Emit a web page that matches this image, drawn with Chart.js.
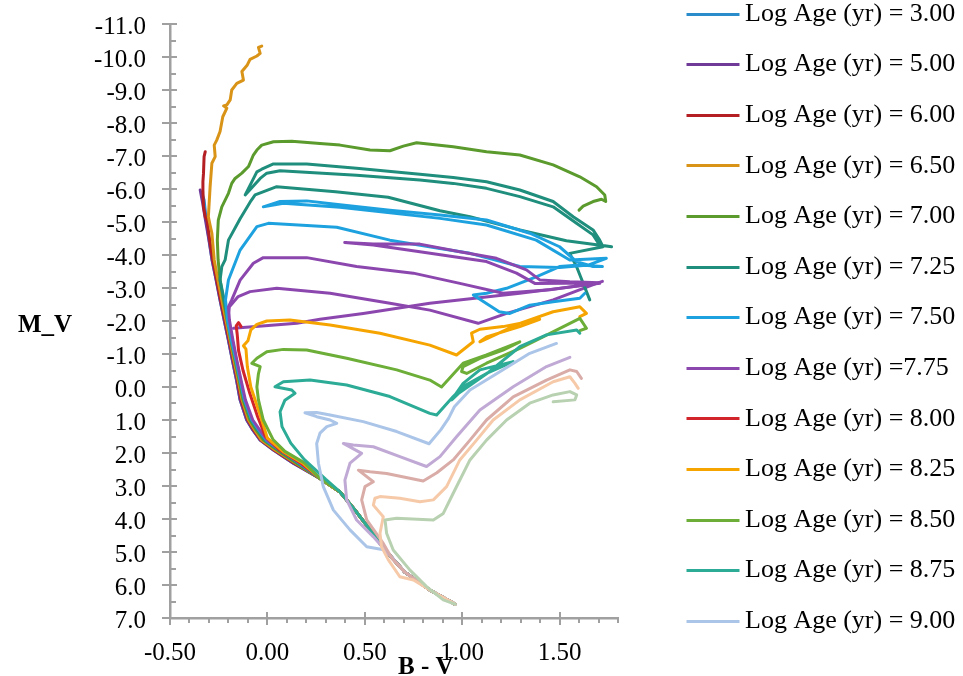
<!DOCTYPE html>
<html>
<head>
<meta charset="utf-8">
<title>Isochrones</title>
<script src="https://cdn.jsdelivr.net/npm/chart.js@4.4.1/dist/chart.umd.min.js"></script>
<style>
  html, body { margin: 0; padding: 0; background: #ffffff; }
  #wrap { width: 963px; height: 676px; }
  canvas { display: block; }
</style>
</head>
<body>
<div id="wrap"><canvas id="chart" width="963" height="676"></canvas></div>
<script>
// ---------------- data (B-V, M_V) ----------------
const AGE_LABELS = [
  'Log Age (yr) = 3.00', 'Log Age (yr) = 5.00', 'Log Age (yr) = 6.00', 'Log Age (yr) = 6.50',
  'Log Age (yr) = 7.00', 'Log Age (yr) = 7.25', 'Log Age (yr) = 7.50', 'Log Age (yr) =7.75',
  'Log Age (yr) = 8.00', 'Log Age (yr) = 8.25', 'Log Age (yr) = 8.50', 'Log Age (yr) = 8.75',
  'Log Age (yr) = 9.00', 'Log Age (yr) = 9.25', 'Log Age (yr) = 9.50', 'Log Age (yr) = 9.75',
  'Log Age (yr) = 10.00'
];
const LEGEND_COUNT = 13;

// shared lower main sequence
const MS_LOW = [[0.963,6.58],[0.834,6.15],[0.706,5.61],[0.604,4.94],[0.527,4.33],[0.450,3.73],[0.373,3.18],[0.270,2.77]];
// how many of the shared lower-MS points each isochrone uses
const MS_SHARE = [8,8,8,8,8,8,8,8,8,8,8,7,4,4,3,2,1];

const ISO_300 = [[0.133,2.31],[0.031,1.91],[-0.037,1.61],[-0.075,1.30],[-0.106,1.00],[-0.140,0.39],[-0.158,-0.20],[-0.180,-0.82],[-0.200,-1.42],[-0.222,-2.03],[-0.243,-2.64],[-0.263,-3.24],[-0.284,-3.85],[-0.299,-4.45],[-0.314,-5.06],[-0.325,-5.67],[-0.335,-5.85]];
const ISO_500 = [[0.133,2.31],[0.031,1.91],[-0.037,1.61],[-0.075,1.30],[-0.106,1.00],[-0.140,0.39],[-0.158,-0.20],[-0.180,-0.82],[-0.200,-1.42],[-0.222,-2.03],[-0.243,-2.64],[-0.263,-3.24],[-0.284,-3.85],[-0.300,-4.45],[-0.318,-5.06],[-0.333,-5.60],[-0.345,-5.97]];
const ISO_600 = [[0.140,2.31],[0.035,1.91],[-0.033,1.61],[-0.070,1.30],[-0.100,1.00],[-0.135,0.39],[-0.153,-0.20],[-0.175,-0.82],[-0.196,-1.42],[-0.218,-2.03],[-0.240,-2.64],[-0.260,-3.24],[-0.280,-3.85],[-0.296,-4.45],[-0.310,-5.06],[-0.319,-5.16],[-0.328,-5.46],[-0.331,-5.97],[-0.331,-6.22],[-0.328,-6.48],[-0.325,-6.98],[-0.319,-7.13]];
const ISO_650 = [[0.145,2.31],[0.040,1.91],[-0.030,1.61],[-0.065,1.30],[-0.097,1.00],[-0.130,0.39],[-0.150,-0.20],[-0.172,-0.82],[-0.192,-1.42],[-0.213,-2.03],[-0.234,-2.64],[-0.254,-3.24],[-0.273,-3.85],[-0.285,-4.66],[-0.294,-4.90],[-0.303,-5.16],[-0.294,-6.07],[-0.285,-6.78],[-0.268,-6.98],[-0.273,-7.33],[-0.260,-7.48],[-0.243,-7.74],[-0.229,-8.19],[-0.208,-8.45],[-0.225,-8.52],[-0.208,-8.55],[-0.191,-8.70],[-0.183,-9.00],[-0.157,-9.20],[-0.123,-9.30],[-0.131,-9.56],[-0.103,-9.76],[-0.089,-9.93],[-0.054,-10.03],[-0.037,-10.11],[-0.046,-10.29],[-0.029,-10.33]];
const ISO_700 = [[0.150,2.31],[0.050,1.91],[-0.020,1.61],[-0.058,1.30],[-0.090,1.00],[-0.125,0.39],[-0.145,-0.20],[-0.167,-0.82],[-0.188,-1.42],[-0.207,-2.03],[-0.226,-2.64],[-0.243,-3.24],[-0.253,-3.85],[-0.257,-4.45],[-0.252,-5.06],[-0.234,-5.46],[-0.200,-5.87],[-0.183,-6.17],[-0.166,-6.32],[-0.131,-6.48],[-0.097,-6.68],[-0.072,-7.03],[-0.054,-7.18],[-0.029,-7.33],[0.031,-7.43],[0.125,-7.45],[0.270,-7.38],[0.373,-7.33],[0.527,-7.18],[0.629,-7.16],[0.698,-7.30],[0.766,-7.40],[0.954,-7.28],[1.125,-7.13],[1.296,-7.03],[1.467,-6.73],[1.604,-6.37],[1.690,-6.07],[1.732,-5.82],[1.737,-5.62],[1.715,-5.69],[1.672,-5.62],[1.621,-5.48],[1.600,-5.36]];
const ISO_725 = [[0.160,2.31],[0.060,1.92],[-0.010,1.62],[-0.050,1.30],[-0.083,1.00],[-0.118,0.39],[-0.138,-0.20],[-0.160,-0.82],[-0.180,-1.42],[-0.200,-2.03],[-0.222,-2.64],[-0.243,-3.24],[-0.234,-3.65],[-0.217,-3.85],[-0.200,-4.45],[-0.140,-5.10],[-0.089,-5.60],[-0.063,-5.82],[0.048,-6.07],[0.350,-5.92],[0.620,-5.75],[0.886,-5.34],[1.040,-5.16],[1.296,-4.76],[1.535,-4.43],[1.767,-4.25],[1.706,-4.30],[1.672,-4.61],[1.587,-4.96],[1.467,-5.46],[1.296,-5.77],[1.125,-6.02],[0.954,-6.17],[0.783,-6.27],[0.458,-6.42],[0.065,-6.55],[-0.003,-6.48],[-0.037,-6.32],[-0.114,-5.82],[-0.054,-6.52],[-0.029,-6.60],[0.031,-6.76],[0.202,-6.76],[0.458,-6.63],[0.783,-6.45],[0.954,-6.35],[1.125,-6.22],[1.296,-5.97],[1.467,-5.62],[1.570,-5.16],[1.672,-4.76],[1.706,-4.45],[1.723,-4.25],[1.552,-4.05],[1.587,-3.65],[1.655,-2.64]];
const ISO_750 = [[0.165,2.31],[0.065,1.92],[-0.005,1.62],[-0.045,1.30],[-0.080,1.00],[-0.118,0.39],[-0.140,-0.20],[-0.162,-0.82],[-0.185,-1.42],[-0.205,-2.03],[-0.215,-2.64],[-0.200,-3.24],[-0.140,-4.15],[-0.054,-4.86],[0.005,-4.96],[0.356,-4.84],[0.629,-4.45],[0.886,-4.20],[1.040,-4.05],[1.296,-3.65],[1.500,-3.62],[1.650,-3.70],[1.740,-3.90],[1.552,-3.85],[1.380,-4.45],[1.125,-4.91],[0.886,-5.11],[0.373,-5.45],[0.082,-5.57],[-0.021,-5.46],[0.065,-5.62],[0.202,-5.64],[0.373,-5.52],[0.629,-5.36],[0.886,-5.21],[1.125,-5.06],[1.347,-4.66],[1.500,-4.25],[1.587,-3.80],[1.672,-3.65],[1.720,-3.65],[1.604,-3.70],[1.500,-3.65],[1.380,-3.34],[1.228,-2.99],[1.125,-2.84],[1.057,-2.79],[1.190,-2.28],[1.245,-2.23],[1.347,-2.48],[1.467,-2.58],[1.604,-2.69],[1.630,-2.84]];
const ISO_775 = [[0.170,2.31],[0.070,1.92],[0.000,1.62],[-0.040,1.30],[-0.075,1.00],[-0.113,0.39],[-0.135,-0.20],[-0.157,-0.82],[-0.177,-1.42],[-0.195,-2.03],[-0.200,-2.43],[-0.183,-2.64],[-0.140,-3.24],[-0.072,-3.75],[-0.021,-3.92],[0.202,-3.92],[0.458,-3.65],[0.749,-3.45],[0.988,-3.14],[1.210,-2.84],[1.450,-2.95],[1.700,-3.15],[1.373,-3.14],[1.279,-3.45],[1.125,-3.80],[0.783,-4.10],[0.544,-4.30],[0.397,-4.38],[0.544,-4.33],[0.783,-4.33],[0.988,-4.10],[1.176,-3.90],[1.330,-3.55],[1.400,-3.24],[1.553,-3.19],[1.706,-3.16]];
const ISO_800 = [[0.170,2.30],[0.060,1.90],[-0.010,1.50],[-0.050,0.90],[-0.090,0.20],[-0.125,-0.50],[-0.148,-1.10],[-0.155,-1.60],[-0.160,-1.85],[-0.148,-1.95],[-0.135,-1.83]];
const ISO_825 = [[0.180,2.30],[0.080,1.95],[0.000,1.55],[-0.040,0.80],[-0.085,0.00],[-0.103,-0.62],[-0.110,-1.15],[-0.123,-1.25],[-0.100,-1.40],[-0.085,-1.73],[-0.054,-1.90],[-0.003,-2.00],[0.116,-2.03],[0.322,-1.88],[0.578,-1.63],[0.834,-1.27],[0.971,-0.97],[1.057,-1.37],[1.048,-1.63],[1.091,-1.75],[1.210,-1.83],[1.398,-2.05],[1.296,-1.83],[1.125,-1.52],[1.091,-1.37],[1.296,-1.93],[1.467,-2.28],[1.604,-2.43],[1.638,-2.23],[1.604,-2.13]];
const ISO_850 = [[0.190,2.30],[0.090,1.95],[0.030,1.60],[-0.021,1.00],[-0.046,0.39],[-0.054,0.00],[-0.046,-0.40],[-0.037,-0.62],[-0.080,-0.72],[-0.054,-0.87],[-0.003,-1.07],[0.082,-1.14],[0.202,-1.12],[0.407,-0.87],[0.664,-0.52],[0.834,-0.21],[0.894,0.00],[1.005,-0.72],[1.125,-0.97],[1.296,-1.37],[1.210,-1.12],[1.091,-0.87],[1.005,-0.62],[0.997,-0.47],[1.023,-0.41],[1.125,-0.72],[1.296,-1.17],[1.415,-1.52],[1.604,-2.08],[1.638,-1.78],[1.604,-1.71]];
const ISO_875 = [[0.300,2.80],[0.190,2.20],[0.120,1.70],[0.075,1.20],[0.065,0.75],[0.090,0.40],[0.142,0.19],[0.125,0.09],[0.039,-0.01],[0.082,-0.16],[0.219,-0.21],[0.407,-0.06],[0.629,0.29],[0.834,0.80],[0.869,0.85],[0.954,0.29],[1.005,-0.01],[1.125,-0.41],[1.262,-0.77],[1.091,-0.52],[1.005,-0.11],[0.946,0.39],[0.980,0.20],[1.125,-0.40],[1.296,-1.22],[1.433,-1.58],[1.588,-1.73],[1.604,-1.63]];
const ISO_900 = [[0.510,4.84],[0.424,4.33],[0.339,3.73],[0.287,3.02],[0.262,2.31],[0.253,1.71],[0.270,1.40],[0.305,1.20],[0.356,1.10],[0.322,1.00],[0.253,0.90],[0.193,0.78],[0.253,0.77],[0.322,0.85],[0.492,1.05],[0.664,1.35],[0.830,1.72],[0.890,1.30],[0.930,0.95],[0.960,0.60],[1.040,0.09],[1.210,-0.52],[1.347,-1.02],[1.484,-1.32]];
const ISO_925 = [[0.544,4.54],[0.458,4.03],[0.407,3.42],[0.398,2.82],[0.424,2.31],[0.484,2.01],[0.390,1.71],[0.441,1.76],[0.544,1.81],[0.680,2.11],[0.817,2.41],[0.886,2.11],[0.971,1.51],[1.091,0.70],[1.262,-0.01],[1.433,-0.62],[1.553,-0.90]];
const ISO_950 = [[0.640,5.20],[0.595,4.74],[0.510,4.03],[0.484,3.42],[0.501,3.02],[0.544,2.87],[0.467,2.52],[0.527,2.57],[0.612,2.62],[0.800,2.85],[0.870,2.60],[0.954,2.21],[1.040,1.61],[1.125,1.00],[1.262,0.30],[1.433,-0.21],[1.553,-0.52],[1.588,-0.47],[1.612,-0.26]];
const ISO_975 = [[0.750,5.85],[0.680,5.75],[0.621,5.24],[0.586,4.84],[0.578,4.43],[0.595,3.93],[0.544,3.58],[0.552,3.37],[0.578,3.32],[0.680,3.37],[0.783,3.48],[0.852,3.42],[0.920,3.02],[0.988,2.21],[1.074,1.61],[1.159,1.00],[1.296,0.39],[1.467,-0.16],[1.553,-0.31],[1.579,-0.11],[1.596,0.04]];
const ISO_1000 = [[0.903,6.45],[0.817,6.05],[0.732,5.55],[0.646,4.94],[0.612,4.43],[0.604,4.03],[0.663,3.98],[0.852,4.03],[0.903,3.83],[0.954,3.22],[1.040,2.21],[1.125,1.61],[1.228,1.00],[1.347,0.49],[1.467,0.24],[1.553,0.14],[1.588,0.24],[1.579,0.39],[1.467,0.45]];
// two extra purple strands (same series colour as 7.75)
const STRAND_A = [[-0.205,-2.03],[-0.195,-2.43],[-0.150,-2.74],[-0.089,-2.89],[0.048,-2.99],[0.322,-2.84],[0.629,-2.54],[0.834,-2.33],[1.082,-1.93],[1.228,-2.23],[1.467,-2.64],[1.690,-3.14],[1.720,-3.20]];
const STRAND_B = [[-0.174,-1.78],[0.151,-1.93],[0.270,-2.05],[0.492,-2.23],[0.834,-2.54],[1.296,-2.84],[1.706,-3.14]];

const ISO_OWN = [ISO_300, ISO_500, ISO_600, ISO_650, ISO_700, ISO_725, ISO_750, ISO_775, ISO_800, ISO_825, ISO_850, ISO_875, ISO_900, ISO_925, ISO_950, ISO_975, ISO_1000];

// ---------------- styles ----------------
const LINE_COLORS = ['#2a8ccb','#6f3a98','#b41f24','#d99418','#5b9a2c','#1f8e7c','#1ea2df','#8c47ae','#d2252b','#f6a500','#6cae37','#2cab96','#abc5e8','#c0aad5','#d9aca8','#f6caa9','#b8d1b1'];
const AXIS_COLOR = '#a0a0a0';
const FONT = '"Liberation Serif", "Times New Roman", serif';

// legend swatch: a 53px line whose left end sits at the item's left edge
function legendSwatch(color) {
  const c = document.createElement('canvas');
  c.width = 106; c.height = 3;
  const g = c.getContext('2d');
  g.fillStyle = color;
  g.fillRect(30, 0, 53, 3);
  return c;
}
const SWATCHES = LINE_COLORS.map(legendSwatch);

// ---------------- build datasets ----------------
function toPoints(list) { return list.map(p => ({ x: p[0], y: p[1] })); }
const datasets = ISO_OWN.map((own, i) => ({
  label: AGE_LABELS[i],
  data: toPoints(MS_LOW.slice(0, MS_SHARE[i]).concat(own)),
  borderColor: LINE_COLORS[i],
  backgroundColor: LINE_COLORS[i],
  borderWidth: 3,
  order: -i
}));
[STRAND_A, STRAND_B].forEach((s, j) => datasets.push({
  label: '',
  data: toPoints(s),
  borderColor: LINE_COLORS[7],
  backgroundColor: LINE_COLORS[7],
  borderWidth: 3,
  order: 5 - j
}));

const decor = {
  id: 'decor',
  afterLayout(chart) {
    const lg = chart.legend;
    if (!lg) return;
    const pad = lg.options.labels.padding;
    const dx = 687 - (lg.left + pad);
    lg.left += dx; lg.right += dx;
    const dy = 1 - (lg.top + pad);
    lg.top += dy; lg.bottom += dy;
  },
  afterDraw(chart) {
    const { ctx, chartArea: a, scales } = chart;
    const xs = scales.x, ys = scales.y;
    ctx.save();
    ctx.strokeStyle = AXIS_COLOR;
    ctx.lineWidth = 2;
    ctx.beginPath();
    for (let k = 0; k <= 23; k++) {
      const v = Math.round((-0.5 + k * 0.1) * 10) / 10;
      const px = Math.round(xs.getPixelForValue(v));
      const major = Math.abs(v * 2 - Math.round(v * 2)) < 1e-9;
      ctx.moveTo(px, major ? a.bottom - 6 : a.bottom);
      ctx.lineTo(px, a.bottom + (major ? 7 : 5));
    }
    for (let k = 0; k <= 36; k++) {
      const v = -11 + k * 0.5;
      const py = Math.round(ys.getPixelForValue(v));
      const major = Number.isInteger(v);
      ctx.moveTo(major ? a.left - 8 : a.left, py);
      ctx.lineTo(a.left + (major ? 7 : 6), py);
    }
    ctx.stroke();
    ctx.fillStyle = '#000000';
    ctx.font = 'bold 25px ' + FONT;
    ctx.textBaseline = 'alphabetic';
    ctx.textAlign = 'left';
    ctx.fillText('M_V', 18, 331.5);
    ctx.fillText('B - V', 398, 674);
    ctx.restore();
  }
};

new Chart(document.getElementById('chart'), {
  type: 'scatter',
  data: { datasets },
  plugins: [decor],
  options: {
    responsive: false,
    animation: false,
    devicePixelRatio: 1,
    showLine: true,
    elements: { point: { radius: 0, hoverRadius: 0 }, line: { tension: 0, borderCapStyle: 'round', borderJoinStyle: 'round' } },
    layout: { padding: { top: -24, right: 0, bottom: 0, left: 0 } },
    plugins: {
      tooltip: { enabled: false },
      title: { display: false },
      legend: {
        position: 'right',
        align: 'start',
        maxWidth: 420,
        labels: {
          usePointStyle: true,
          pointStyleWidth: 45,
          boxHeight: 3,
          padding: 24.6,
          color: '#000000',
          font: { family: FONT, size: 26 },
          generateLabels(chart) {
            return chart.data.datasets.slice(0, LEGEND_COUNT).map((ds, i) => ({
              text: ds.label, fillStyle: ds.borderColor, strokeStyle: ds.borderColor,
              lineWidth: 0, hidden: false, datasetIndex: i, fontColor: '#000000',
              pointStyle: SWATCHES[i], rotation: 0
            }));
          }
        }
      }
    },
    scales: {
      x: {
        type: 'linear', position: 'bottom', min: -0.5, max: 1.8,
        grid: { display: false, drawTicks: true, tickLength: 20 },
        border: { display: true, color: AXIS_COLOR, width: 2.5 },
        ticks: {
          stepSize: 0.5, includeBounds: false, autoSkip: false, maxRotation: 0, padding: 0,
          color: '#000000', font: { family: FONT, size: 25, lineHeight: 1.2 },
          callback: v => Number(v).toFixed(2)
        },
        afterFit(s) { s.height = 58; }
      },
      y: {
        type: 'linear', position: 'left', reverse: true, min: -11, max: 7,
        grid: { display: false, drawTicks: true, tickLength: 24 },
        border: { display: true, color: AXIS_COLOR, width: 2.5 },
        ticks: {
          stepSize: 1, autoSkip: false, padding: 0, labelOffset: 3,
          color: '#000000', font: { family: FONT, size: 25, lineHeight: 1.2 },
          callback: v => (Math.abs(v) < 1e-9 ? 0 : Number(v)).toFixed(1)
        },
        afterFit(s) { s.width = 170; }
      },
      xTop: {
        type: 'linear', position: 'top', display: true,
        grid: { display: false, drawTicks: false }, border: { display: false },
        ticks: { display: false },
        afterFit(s) { s.height = 48; }
      },
      yRight: {
        type: 'linear', position: 'right', display: true,
        grid: { display: false, drawTicks: false }, border: { display: false },
        ticks: { display: false },
        afterFit(s) {
          const lg = s.chart.legend;
          s.width = Math.max(0, 963 - (lg ? lg.width : 300) - 618);
        }
      }
    }
  }
});
</script>
</body>
</html>
